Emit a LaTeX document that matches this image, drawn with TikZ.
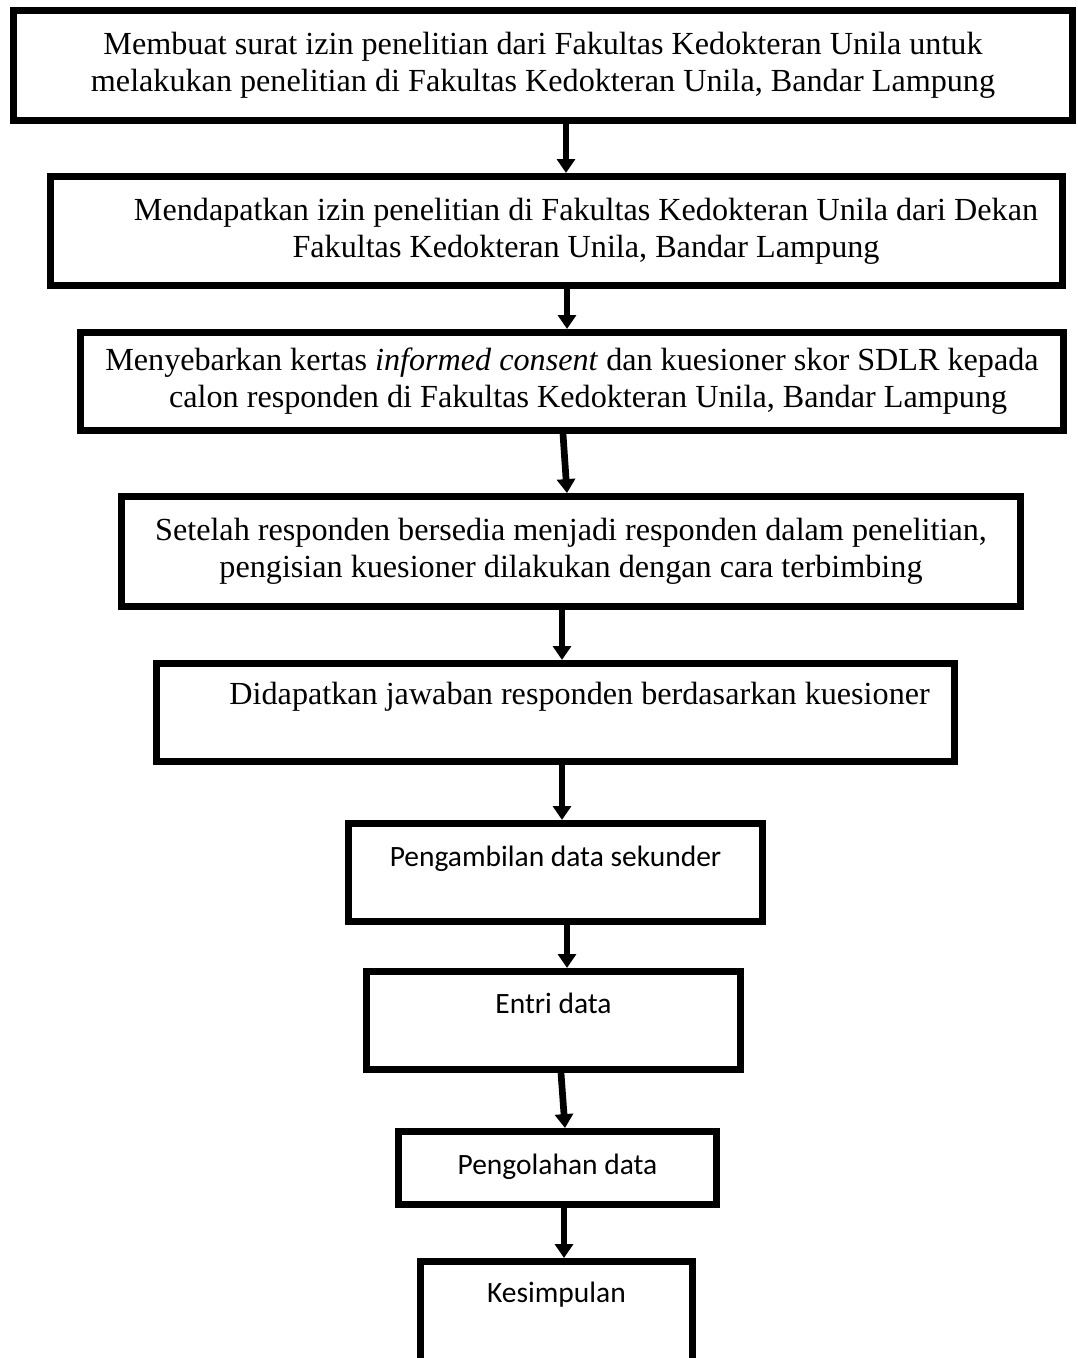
\documentclass[tikz,border=0pt]{standalone}
\usepackage{fontspec}
\setmainfont{Liberation Serif}
\newfontfamily\calibri{Carlito}
\usetikzlibrary{arrows.meta}

% raise the text of a box without changing its size
\newcommand{\liftup}[2]{\raisebox{#1}[\height][\depth]{#2}}

\begin{document}
\begin{tikzpicture}[x=0.373pt,y=-0.373pt,
    stepbox/.style={shape=rectangle,draw,line width=2.6pt,inner sep=0pt,
      align=center,font=\fontsize{12pt}{13.8pt}\selectfont},
    smallbox/.style={stepbox,font=\calibri\fontsize{11pt}{13.4pt}\selectfont},
    link/.style={line width=2.5pt,
      -{Triangle[width=6.7pt,length=5.2pt]}}]

      \useasboundingbox (0,0) rectangle (1077,1358);

      \path node (permit) at (543,65.5)
            [stepbox,minimum width=395pt,minimum height=41pt]
            {Membuat surat izin penelitian dari Fakultas Kedokteran Unila untuk\\
             melakukan penelitian di Fakultas Kedokteran Unila, Bandar Lampung};

      \path node (dean) at (556.5,231)
            [stepbox,minimum width=377.5pt,minimum height=40.7pt]
            {\hspace*{22pt}Mendapatkan izin penelitian di Fakultas Kedokteran Unila dari Dekan\\
             \hspace*{22pt}Fakultas Kedokteran Unila, Bandar Lampung};

      \path node (consent) at (572,381.5)
            [stepbox,minimum width=366.7pt,minimum height=36.6pt]
            {Menyebarkan kertas \textit{informed consent} dan kuesioner skor SDLR kepada\\
             \hspace*{12pt}calon responden di Fakultas Kedokteran Unila, Bandar Lampung};

      \path node (fill) at (571,551.5)
            [stepbox,minimum width=335.3pt,minimum height=41pt]
            {Setelah responden bersedia menjadi responden dalam penelitian,\\
             pengisian kuesioner dilakukan dengan cara terbimbing};

      \path node (answer) at (555.5,712.5)
            [stepbox,minimum width=297.7pt,minimum height=36.6pt]
            {\liftup{6pt}{\hspace*{18pt}Didapatkan jawaban responden berdasarkan kuesioner}};

      \path node (second) at (555.5,872.5)
            [smallbox,minimum width=154.4pt,minimum height=36.6pt]
            {\liftup{5pt}{Pengambilan data sekunder}};

      \path node (entry) at (553.5,1020.5)
            [smallbox,minimum width=139.5pt,minimum height=36.6pt]
            {\liftup{6.5pt}{Entri data}};

      \path node (process) at (557.5,1168)
            [smallbox,minimum width=118.6pt,minimum height=27.2pt]
            {\liftup{0.5pt}{Pengolahan data}};

      \path node (concl) at (556.5,1312)
            [smallbox,minimum width=101.5pt,minimum height=37.7pt]
            {\liftup{6.3pt}{Kesimpulan}};

      \draw[link] (permit.south -| 566,0) -- (dean.north -| 566,0);
      \draw[link] (dean.south -| 567,0) -- (consent.north -| 567,0);
      \draw[link] (consent.south -| 563,0) -- (fill.north -| 567,0);
      \draw[link] (fill.south -| 562,0) -- (answer.north -| 562,0);
      \draw[link] (answer.south -| 562,0) -- (second.north -| 562,0);
      \draw[link] (second.south -| 567,0) -- (entry.north -| 567,0);
      \draw[link] (entry.south -| 561,0) -- (process.north -| 565,0);
      \draw[link] (process.south -| 564,0) -- (concl.north -| 564,0);
    \end{tikzpicture}
\end{document}
